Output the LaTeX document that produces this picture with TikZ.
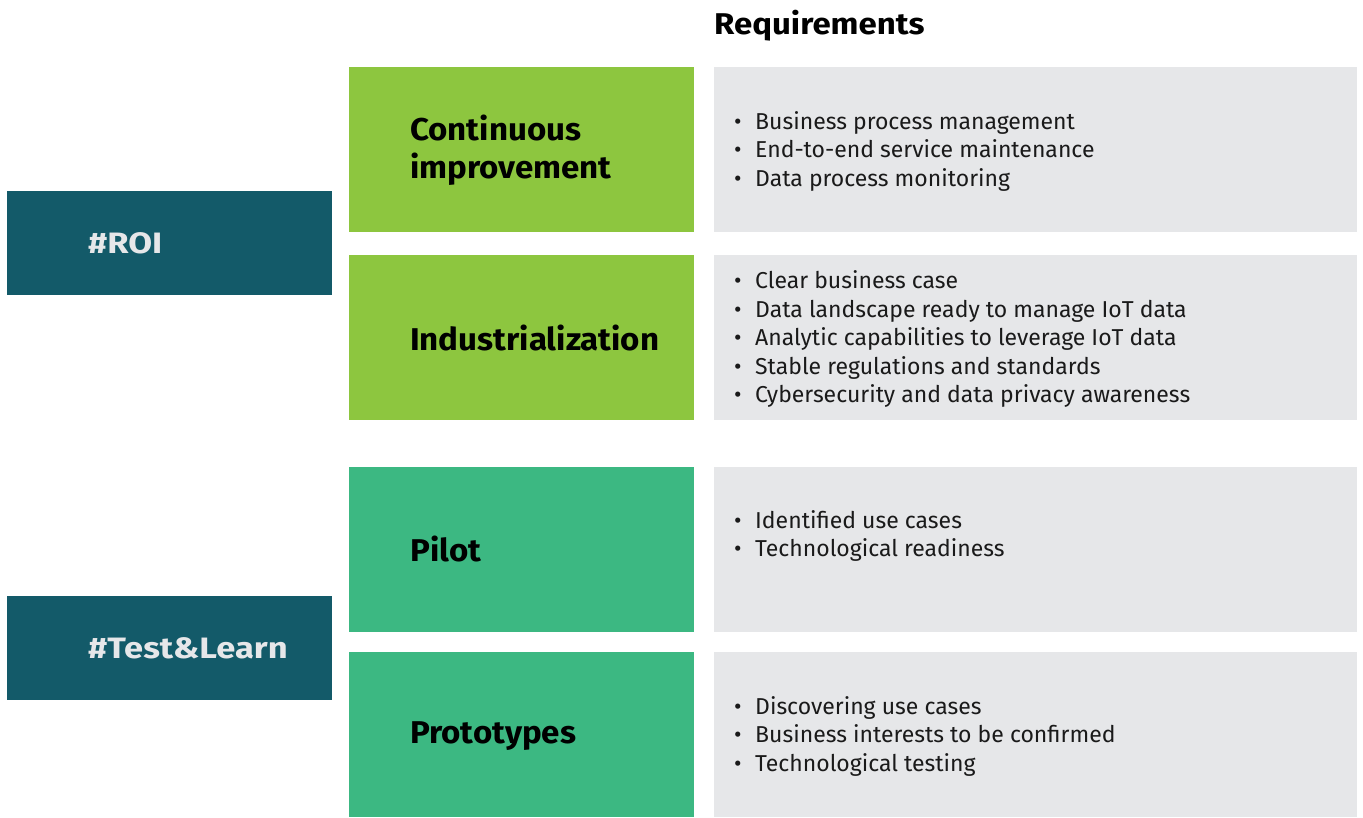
\documentclass[tikz,border=0pt]{standalone}
\usepackage{fontspec}
\setmainfont{Fira Sans}
\newfontfamily\phasefont[FakeStretch=1.05]{Fira Sans}
\newfontfamily\tagfont[FakeStretch=1.17]{Fira Sans}
\newfontfamily\titlefont[FakeStretch=1.1]{Fira Sans}
\definecolor{teal}{HTML}{135A69}
\definecolor{lgreen}{HTML}{8DC63F}
\definecolor{mgreen}{HTML}{3CB882}
\definecolor{lgrey}{HTML}{E6E7E9}
\definecolor{txt}{HTML}{1A1A1A}
\begin{document}
\begin{tikzpicture}[x=1pt,y=-1pt,
  tagbox/.style={fill=teal, draw=none, inner sep=0, minimum width=325pt, minimum height=104pt, anchor=north west},
  phase/.style={fill=#1, draw=none, inner sep=0, minimum width=345pt, minimum height=165pt, anchor=north west},
  reqbox/.style={fill=lgrey, draw=none, inner sep=0, minimum width=643pt, minimum height=165pt, anchor=north west},
  taglabel/.style={anchor=west, inner sep=0, text=lgrey, font=\tagfont\fontsize{29.5}{34}\selectfont\bfseries},
  phaselabel/.style={anchor=west, inner sep=0, text=black, align=left, font=\phasefont\fontsize{31.5}{38}\selectfont\bfseries},
  reqlist/.style={anchor=west, inner sep=0, text=txt, align=left, font=\fontsize{23}{28.5}\selectfont},
]
\useasboundingbox (0,0) rectangle (1363,817);
\newcommand{\itm}[1]{\makebox[21pt][l]{•}#1}

\node[anchor=base west, inner sep=0, font=\titlefont\fontsize{30}{36}\selectfont\bfseries] (title) at (714,34) {Requirements};

\node[tagbox] (roi) at (7,191) {};
\node[taglabel] (roiL) at (88,243) {\#ROI};
\node[tagbox] (tl) at (7,596) {};
\node[taglabel] (tlL) at (88,648) {\#Test\&Learn};

\node[phase=lgreen] (ci) at (349,67) {};
\node[phase=lgreen] (ind) at (349,255) {};
\node[phase=mgreen] (pil) at (349,467) {};
\node[phase=mgreen] (pro) at (349,652) {};

\node[phaselabel] (ciL) at (410,150) {Continuous\\improvement};
\node[phaselabel] (indL) at (410,338) {Industrialization};
\node[phaselabel] (pilL) at (410,549) {Pilot};
\node[phaselabel] (proL) at (410,736) {Prototypes};

\node[reqbox] (r1) at (714,67) {};
\node[reqbox] (r2) at (714,255) {};
\node[reqbox] (r3) at (714,467) {};
\node[reqbox] (r4) at (714,652) {};

\node[reqlist] (r1L) at (734,151) {\itm{Business process management}\\\itm{End-to-end service maintenance}\\\itm{Data process monitoring}};
\node[reqlist] (r2L) at (734,339) {\itm{Clear business case}\\\itm{Data landscape ready to manage IoT data}\\\itm{Analytic capabilities to leverage IoT data}\\\itm{Stable regulations and standards}\\\itm{Cybersecurity and data privacy awareness}};
\node[reqlist] (r3L) at (734,536) {\itm{Identified use cases}\\\itm{Technological readiness}};
\node[reqlist] (r4L) at (734,736) {\itm{Discovering use cases}\\\itm{Business interests to be confirmed}\\\itm{Technological testing}};
\end{tikzpicture}
\end{document}
